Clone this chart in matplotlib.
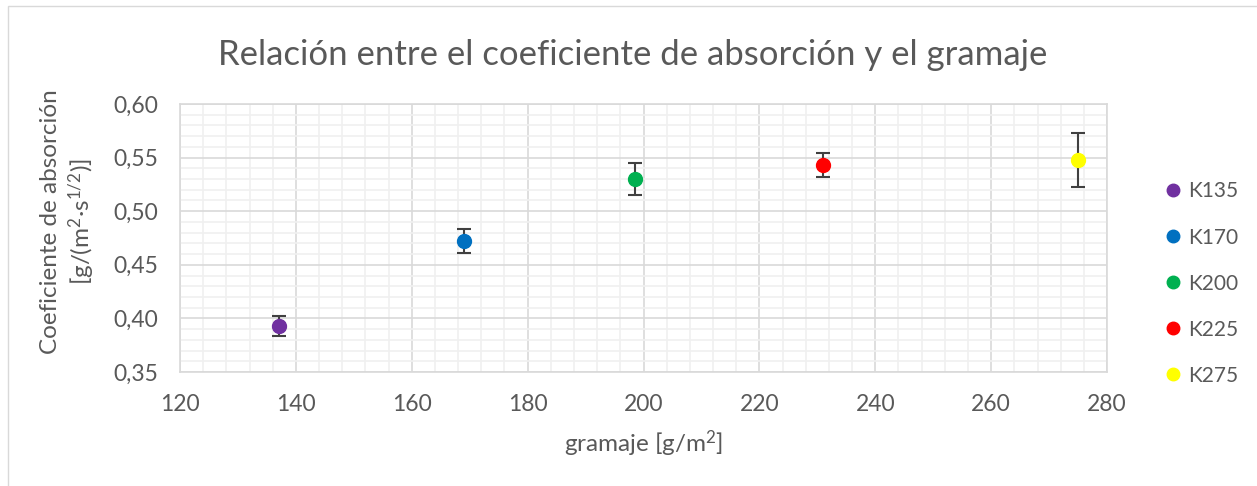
import matplotlib
matplotlib.use("Agg")
import matplotlib.pyplot as plt
from matplotlib.ticker import MultipleLocator
from matplotlib.patches import Rectangle
from matplotlib.lines import Line2D

# datos
muestras = ["K135", "K170", "K200", "K225", "K275"]
gramaje = [137, 169, 198.5, 231, 275]
coef = [0.393, 0.472, 0.530, 0.543, 0.548]
error = [0.009, 0.011, 0.015, 0.011, 0.025]
colores = ["#7030A0", "#0070C0", "#00B050", "#FF0000", "#FFFF00"]

plt.rcParams['font.family'] = ['Lato', 'DejaVu Sans']
plt.rcParams['mathtext.fontset'] = 'custom'
plt.rcParams['mathtext.rm'] = 'Lato'
plt.rcParams['mathtext.it'] = 'Lato'
gris = "#595959"

fig = plt.figure(figsize=(12.57, 4.86), dpi=100)
ax = fig.add_axes([0.1432, 0.2346, 0.7375, 0.5514])

for m, x, y, e, c in zip(muestras, gramaje, coef, error, colores):
    ax.errorbar(x, y, yerr=e, fmt='o', color=c, markersize=10,
                ecolor="#404040", elinewidth=1.5, capsize=5, capthick=1.5,
                zorder=3)

ax.set_xlim(120, 280)
ax.set_ylim(0.35, 0.60)
ax.xaxis.set_major_locator(MultipleLocator(20))
ax.xaxis.set_minor_locator(MultipleLocator(4))
ax.yaxis.set_major_locator(MultipleLocator(0.05))
ax.yaxis.set_minor_locator(MultipleLocator(0.01))
ax.yaxis.set_major_formatter(lambda v, p: f"{v:.2f}".replace(".", ","))

ax.grid(which='major', color="#d9d9d9", linewidth=1.2, zorder=0)
ax.grid(which='minor', color="#f0f0f0", linewidth=1.2, zorder=0)
ax.set_axisbelow(True)
for s in ax.spines.values():
    s.set_color("#d9d9d9")
    s.set_linewidth(1.2)
ax.tick_params(which='both', length=0, labelsize=16.5, colors=gris)
ax.tick_params(axis='y', pad=16)
ax.tick_params(axis='x', pad=15.5)

ax.set_title("Relación entre el coeficiente de absorción y el gramaje",
             fontsize=25, color=gris, pad=28, x=0.488)
ax.set_xlabel(r"gramaje [g/m$^2$]", fontsize=17.5, color=gris, labelpad=10)
ax.set_ylabel("Coeficiente de absorción\n" + r"[g/(m$^2$·s$^{1/2}$)]",
              fontsize=17.5, color=gris, linespacing=1.25)
ax.yaxis.set_label_coords(-0.0895, 0.56)

handles = [Line2D([], [], linestyle='none', marker='o', color=c, markersize=9)
           for c in colores]
leg = ax.legend(handles, muestras, loc='center left', bbox_to_anchor=(1.06, 0.33),
                frameon=False, fontsize=15, labelspacing=1.25, handletextpad=0.2,
                handlelength=1.0, borderaxespad=0, borderpad=0)
for t in leg.get_texts():
    t.set_color(gris)

fig.patches.append(Rectangle((0.006, -0.01), 1.2, 0.998, transform=fig.transFigure,
                             fill=False, edgecolor="#d9d9d9", linewidth=1))

fig.savefig("out.png", dpi=100)
